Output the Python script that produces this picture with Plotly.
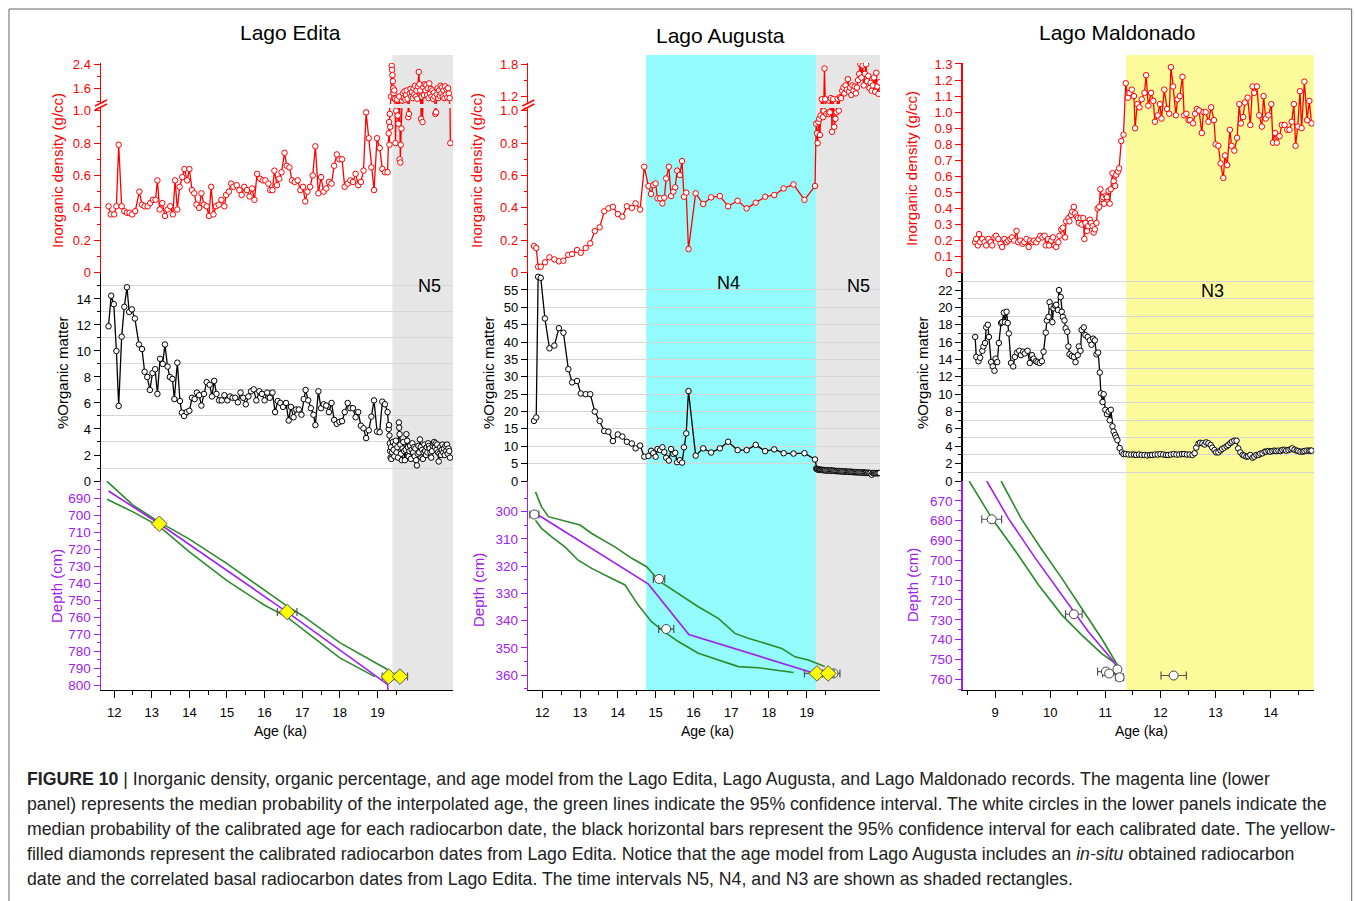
import plotly.graph_objects as go

FONT = "Liberation Sans, Arial, Helvetica, sans-serif"
RED = "#ff0000"
PURPLE = "#a020f0"
GREEN = "#2b8a2b"
BLACK = "#000000"
W, H = 1355, 901

# ---------------- Lago Edita ----------------
edita_age = [11.85, 11.91, 12.00, 12.06, 12.12, 12.20, 12.27, 12.34, 12.41, 12.48, 12.56, 12.67, 12.74, 12.81, 12.89,
             12.96, 13.03, 13.10, 13.15, 13.21, 13.28, 13.35, 13.42, 13.49, 13.56, 13.62, 13.68, 13.74, 13.81, 13.87,
             13.94, 14.00, 14.07, 14.13, 14.19, 14.26, 14.32, 14.39, 14.46, 14.52, 14.58, 14.64, 14.71, 14.78, 14.85,
             14.93, 14.98, 15.05, 15.11, 15.17, 15.26, 15.33, 15.39, 15.46, 15.53, 15.60, 15.67, 15.73, 15.80, 15.88,
             15.95, 16.02, 16.10, 16.15, 16.21, 16.26, 16.33, 16.39, 16.45, 16.53, 16.59, 16.66, 16.73, 16.80, 16.88,
             16.95, 17.02, 17.08, 17.14, 17.21, 17.28, 17.35, 17.43, 17.50, 17.57, 17.64, 17.71, 17.78, 17.85, 17.92,
             17.99, 18.06, 18.13, 18.21, 18.28, 18.35, 18.42, 18.49, 18.56, 18.63, 18.70, 18.77, 18.84, 18.91, 18.99,
             19.06, 19.13, 19.20, 19.27]
edita_density = [0.41, 0.36, 0.36, 0.41, 0.79, 0.41, 0.38, 0.37, 0.37, 0.36, 0.38, 0.50, 0.42, 0.41, 0.41,
                 0.43, 0.45, 0.45, 0.57, 0.39, 0.43, 0.35, 0.39, 0.41, 0.36, 0.57, 0.39, 0.53, 0.59, 0.64,
                 0.57, 0.64, 0.51, 0.49, 0.42, 0.40, 0.49, 0.42, 0.41, 0.35, 0.53, 0.36, 0.41, 0.42, 0.45,
                 0.41, 0.48, 0.50, 0.55, 0.53, 0.54, 0.51, 0.48, 0.53, 0.51, 0.47, 0.52, 0.45, 0.61, 0.58,
                 0.57, 0.57, 0.55, 0.51, 0.51, 0.63, 0.54, 0.58, 0.62, 0.74, 0.66, 0.65, 0.57, 0.56, 0.57,
                 0.51, 0.53, 0.44, 0.50, 0.53, 0.60, 0.78, 0.49, 0.59, 0.50, 0.52, 0.56, 0.55, 0.66, 0.73,
                 0.70, 0.70, 0.53, 0.55, 0.57, 0.56, 0.61, 0.54, 0.56, 0.63, 0.99, 0.83, 0.65, 0.51, 0.83,
                 0.77, 0.64, 0.62, 0.62]
edita_n5_den_age = [19.30, 19.31, 19.32, 19.33, 19.34, 19.36, 19.38, 19.39, 19.40, 19.41, 19.42, 19.43, 19.44, 19.45,
                    19.47, 19.48, 19.50, 19.52, 19.54, 19.56, 19.58, 19.59, 19.61, 19.62, 19.64, 19.66, 19.68, 19.70,
                    19.72, 19.74, 19.76, 19.78, 19.80, 19.82, 19.84, 19.86, 19.88, 19.90, 19.92, 19.94, 19.96, 19.98,
                    20.00, 20.02, 20.04, 20.06, 20.08, 20.10, 20.12, 20.14, 20.16, 20.18, 20.20, 20.22, 20.24, 20.26,
                    20.28, 20.30, 20.32, 20.34, 20.36, 20.38, 20.40, 20.42, 20.44, 20.46, 20.48, 20.50, 20.52, 20.54,
                    20.56, 20.58, 20.60, 20.62, 20.64, 20.66, 20.68, 20.70, 20.72, 20.74, 20.76, 20.78, 20.80, 20.82,
                    20.84, 20.86, 20.88, 20.90, 20.92, 20.94]
edita_n5_density = [0.86, 0.93, 0.79, 0.98, 0.90, 1.35, 2.35, 2.22, 2.05, 1.85, 1.62, 1.45, 1.30, 1.55,
                    1.28, 0.80, 1.00, 1.25, 0.97, 0.92, 1.35, 0.70, 0.68, 0.79, 0.89, 1.22, 1.45, 1.30,
                    1.52, 1.25, 1.40, 1.55, 1.28, 0.96, 0.98, 1.45, 1.60, 1.35, 1.50, 1.30, 1.62, 1.42,
                    1.70, 1.35, 1.55, 1.28, 1.68, 2.15, 1.75, 1.55, 0.95, 1.35, 0.93, 1.65, 1.40, 1.75,
                    1.55, 1.72, 1.40, 1.62, 1.30, 1.78, 1.45, 1.60, 1.35, 1.55, 1.28, 1.48, 1.35, 0.98,
                    0.99, 1.42, 1.62, 1.30, 1.55, 1.38, 1.70, 1.45, 1.65, 1.35, 1.55, 1.30, 1.68, 1.42,
                    1.58, 1.32, 1.62, 1.45, 1.30, 0.80]
edita_org_age = [11.85, 11.92, 11.99, 12.06, 12.12, 12.20, 12.27, 12.34, 12.40, 12.47, 12.55, 12.66, 12.74, 12.81, 12.88,
                 12.95, 13.02, 13.09, 13.15, 13.22, 13.29, 13.35, 13.42, 13.48, 13.55, 13.60, 13.68, 13.75, 13.80, 13.86,
                 13.93, 14.00, 14.07, 14.14, 14.20, 14.26, 14.32, 14.39, 14.46, 14.54, 14.60, 14.66, 14.72, 14.79, 14.86,
                 14.93, 15.01, 15.08, 15.15, 15.22, 15.29, 15.36, 15.43, 15.50, 15.57, 15.64, 15.71, 15.78, 15.86, 15.93,
                 16.00, 16.07, 16.14, 16.21, 16.28, 16.35, 16.42, 16.49, 16.57, 16.64, 16.70, 16.77, 16.84, 16.91, 16.98,
                 17.04, 17.09, 17.16, 17.23, 17.30, 17.35, 17.43, 17.50, 17.57, 17.64, 17.71, 17.78, 17.85, 17.92, 17.99,
                 18.06, 18.13, 18.21, 18.28, 18.35, 18.42, 18.49, 18.56, 18.63, 18.70, 18.77, 18.84, 18.91, 18.99, 19.06,
                 19.13, 19.20, 19.27, 19.30]
edita_organic = [11.9, 14.25, 13.6, 10.0, 5.77, 11.1, 13.4, 14.9, 13.0, 13.2, 12.5, 10.5, 10.15, 8.4, 8.0,
                 7.0, 8.3, 8.6, 6.7, 9.4, 9.0, 10.5, 8.8, 8.0, 7.85, 6.3, 9.1, 6.15, 5.26, 5.0,
                 5.3, 5.4, 6.4, 6.3, 6.8, 6.6, 5.8, 6.7, 7.6, 7.4, 6.5, 7.7, 6.7, 6.2, 6.2,
                 6.6, 6.2, 6.5, 6.4, 6.4, 6.05, 6.8, 6.4, 5.9, 6.5, 6.9, 7.05, 6.2, 6.9, 6.7,
                 6.2, 6.8, 6.4, 6.8, 5.3, 6.15, 6.0, 5.7, 6.0, 4.65, 5.7, 4.9, 5.5, 5.5, 5.1,
                 6.3, 7.0, 6.2, 5.6, 5.1, 4.3, 6.9, 5.6, 5.9, 5.8, 5.3, 6.0, 4.7, 4.4, 4.55,
                 4.6, 5.3, 6.0, 5.6, 5.6, 4.9, 5.3, 4.25, 4.05, 3.3, 3.9, 4.95, 6.2, 3.8, 3.75,
                 6.1, 5.9, 5.3, 4.0]
edita_n5_org_age = [19.31, 19.32, 19.33, 19.34, 19.35, 19.36, 19.37, 19.39, 19.41, 19.43, 19.45, 19.47, 19.49, 19.51,
                    19.53, 19.55, 19.57, 19.58, 19.59, 19.61, 19.63, 19.65, 19.67, 19.69, 19.71, 19.73, 19.75, 19.77,
                    19.79, 19.81, 19.83, 19.85, 19.87, 19.89, 19.91, 19.93, 19.95, 19.97, 19.99, 20.01, 20.03, 20.05,
                    20.07, 20.09, 20.11, 20.13, 20.15, 20.17, 20.19, 20.21, 20.23, 20.25, 20.27, 20.29, 20.31, 20.33,
                    20.35, 20.37, 20.39, 20.41, 20.43, 20.45, 20.47, 20.49, 20.51, 20.53, 20.55, 20.57, 20.59, 20.61,
                    20.63, 20.65, 20.67, 20.69, 20.71, 20.73, 20.75, 20.77, 20.79, 20.81, 20.83, 20.85, 20.87, 20.89,
                    20.91, 20.93]
edita_n5_organic = [4.3, 3.5, 2.9, 2.3, 1.8, 2.6, 1.7, 2.2, 3.0, 2.4, 1.9, 2.8, 3.1, 2.2,
                    2.6, 1.8, 4.5, 4.1, 3.6, 2.8, 2.1, 1.6, 2.5, 3.0, 2.3, 1.6, 2.4, 3.6,
                    3.1, 2.6, 1.9, 2.3, 2.7, 1.7, 2.4, 2.9, 2.2, 2.6, 1.9, 2.5, 1.6, 1.2,
                    2.1, 2.7, 2.2, 3.2, 2.6, 1.8, 2.4, 1.7, 2.2, 2.8, 2.3, 2.0, 2.6, 2.2,
                    2.9, 2.7, 2.5, 2.2, 1.8, 2.3, 2.7, 2.9, 3.0, 2.6, 2.9, 2.4, 2.8, 2.2,
                    1.5, 2.1, 2.6, 2.0, 2.4, 2.8, 2.2, 2.5, 2.0, 2.7, 2.3, 2.8, 2.1, 2.5,
                    2.3, 1.8]
edita_median_age = [11.85, 13.2, 16.6, 19.27, 19.28]
edita_median_depth = [685.7, 705.0, 757.0, 799.6, 803.0]
edita_ci_young_age = [11.81, 12.5, 13.2, 14.0, 15.0, 16.0, 16.6, 17.0, 18.0, 19.36]
edita_ci_young_depth = [680.0, 694.0, 704.0, 714.0, 728.5, 744.0, 753.5, 759.0, 775.0, 792.0]
edita_ci_old_age = [11.81, 12.5, 13.2, 14.0, 15.0, 16.0, 16.6, 17.0, 18.0, 18.93]
edita_ci_old_depth = [690.5, 698.0, 706.5, 721.5, 738.5, 753.0, 760.0, 767.0, 784.0, 795.0]
edita_dates_age = [13.2, 16.6, 19.3, 19.6]
edita_dates_depth = [705, 757, 795, 795]
edita_dates_err = [0.11, 0.26, 0.17, 0.2]

# ---------------- Lago Augusta ----------------
augusta_age = [11.78, 11.84, 11.89, 11.96, 12.07, 12.19, 12.32, 12.44, 12.56, 12.69, 12.79, 12.92, 13.02, 13.15, 13.27,
               13.39, 13.52, 13.64, 13.75, 13.87, 14.00, 14.12, 14.24, 14.37, 14.47, 14.59, 14.70, 14.81, 14.88, 14.94,
               15.00, 15.05, 15.12, 15.18, 15.23, 15.28, 15.35, 15.41, 15.47, 15.52, 15.57, 15.64, 15.70, 15.75, 15.81,
               15.87, 16.06, 16.26, 16.47, 16.70, 16.92, 17.17, 17.41, 17.65, 17.90, 18.14, 18.39, 18.65, 18.94, 19.22,
               19.25, 19.27, 19.29, 19.31, 19.33, 19.35, 19.37, 19.40, 19.43, 19.45, 19.47, 19.49, 19.52, 19.55, 19.58,
               19.61, 19.64, 19.67, 19.70, 19.73, 19.76, 19.79, 19.82, 19.85, 19.88, 19.91, 19.94, 19.97, 20.00, 20.03,
               20.06, 20.09, 20.12, 20.15, 20.18, 20.21, 20.24, 20.27, 20.30, 20.33, 20.36, 20.39, 20.42, 20.45, 20.48,
               20.51, 20.54, 20.57, 20.60, 20.63, 20.66, 20.69, 20.72, 20.75, 20.78, 20.81, 20.84, 20.87, 20.90, 20.93]
augusta_density = [0.165, 0.152, 0.037, 0.037, 0.064, 0.095, 0.082, 0.07, 0.074, 0.11, 0.115, 0.14, 0.123, 0.152, 0.181,
                   0.257, 0.28, 0.379, 0.397, 0.407, 0.362, 0.346, 0.41, 0.40, 0.428, 0.39, 0.654, 0.535, 0.486, 0.541,
                   0.551, 0.459, 0.459, 0.428, 0.463, 0.582, 0.654, 0.473, 0.50, 0.527, 0.63, 0.603, 0.689, 0.469, 0.494,
                   0.146, 0.49, 0.424, 0.465, 0.473, 0.41, 0.444, 0.397, 0.432, 0.469, 0.479, 0.52, 0.545, 0.45, 0.535,
                   0.92, 0.86, 0.80, 0.93, 0.95, 0.85, 0.97, 1.14, 0.96, 1.00, 1.72, 1.14, 0.98, 1.02, 0.98,
                   0.99, 1.16, 0.87, 1.14, 0.90, 0.95, 0.99, 1.15, 1.00, 1.18, 1.16, 1.30, 1.36, 1.25, 1.40,
                   1.32, 1.52, 1.28, 1.36, 1.22, 1.40, 1.30, 1.38, 1.25, 1.36, 1.50, 1.62, 1.80, 1.55, 1.78,
                   1.40, 1.62, 1.80, 1.48, 1.58, 1.35, 1.45, 1.30, 1.40, 1.55, 1.28, 1.64, 1.38, 1.24, 1.46]
augusta_organic = [17.3, 18.3, 58.8, 58.5, 46.8, 38.2, 39.0, 44.0, 42.7, 32.2, 28.4, 28.8, 25.2, 25.0, 25.0,
                   20.0, 17.3, 14.4, 14.2, 11.5, 13.4, 12.8, 11.3, 10.8, 9.4, 10.2, 7.0, 7.2, 8.7, 8.0,
                   7.0, 9.2, 8.9, 9.7, 8.3, 6.7, 5.9, 9.2, 7.8, 8.1, 5.4, 6.0, 5.3, 9.7, 13.7,
                   25.9, 7.3, 9.4, 8.2, 9.4, 11.3, 8.9, 8.9, 10.4, 8.6, 9.1, 8.0, 7.9, 8.0, 6.2,
                   3.6, 3.4, 3.3, 3.3, 3.2, 3.3, 3.2, 3.2, 3.1, 3.2, 3.1, 3.1, 3.0, 3.1, 3.0,
                   3.0, 3.1, 2.9, 3.0, 2.9, 2.9, 2.9, 2.8, 2.9, 2.8, 2.8, 2.8, 2.7, 2.8, 2.7,
                   2.7, 2.7, 2.6, 2.7, 2.6, 2.6, 2.6, 2.5, 2.6, 2.5, 2.5, 2.5, 2.5, 2.4, 2.5,
                   2.4, 2.4, 2.4, 2.3, 2.4, 2.3, 2.3, 1.8, 2.3, 2.3, 2.2, 2.3, 2.2, 2.3, 2.3]
augusta_median_age = [11.85, 12.0, 14.81, 15.88, 19.22]
augusta_median_depth = [301.0, 302.1, 326.6, 345.1, 359.4]
augusta_ci_young_age = [11.82, 11.98, 12.16, 12.51, 13.0, 13.31, 13.92, 14.37, 14.76, 15.12, 15.60, 16.13, 16.66,
                        17.10, 17.45, 17.90, 18.34, 18.69, 19.04, 19.48]
augusta_ci_young_depth = [292.7, 298.2, 301.8, 303.1, 304.9, 308.0, 312.9, 317.1, 320.2, 325.7, 330.0, 334.9, 339.2,
                          344.7, 346.5, 348.4, 350.2, 353.3, 354.5, 356.9]
augusta_ci_old_age = [11.82, 11.98, 12.25, 12.60, 12.95, 13.31, 13.84, 14.19, 14.54, 14.89, 15.25, 15.60, 16.13,
                      16.66, 17.19, 17.72, 18.65]
augusta_ci_old_depth = [303.1, 306.1, 309.2, 312.9, 317.8, 320.8, 324.5, 326.9, 334.3, 340.4, 344.3, 347.7, 352.0,
                        354.5, 356.9, 357.3, 359.1]
augusta_c14_age = [11.79, 15.09, 15.28, 19.71]
augusta_c14_depth = [301.0, 324.7, 343.1, 359.4]
augusta_c14_err = [0.12, 0.15, 0.2, 0.17]
augusta_edita_age = [19.27, 19.57]
augusta_edita_depth = [359.4, 359.4]
augusta_edita_err = [0.33, 0.15]

# ---------------- Lago Maldonado ----------------
maldonado_den_age = [8.64, 8.66, 8.69, 8.71, 8.73, 8.77, 8.81, 8.84, 8.88, 8.92, 8.95, 8.99, 9.02, 9.06, 9.10,
                     9.13, 9.17, 9.21, 9.24, 9.28, 9.31, 9.35, 9.39, 9.42, 9.46, 9.50, 9.53, 9.57, 9.61, 9.64,
                     9.68, 9.71, 9.75, 9.79, 9.82, 9.86, 9.90, 9.92, 9.96, 9.98, 10.02, 10.05, 10.08, 10.11, 10.15,
                     10.17, 10.20, 10.23, 10.27, 10.29, 10.33, 10.35, 10.38, 10.40, 10.43, 10.45, 10.48, 10.50, 10.52, 10.55,
                     10.57, 10.60, 10.62, 10.64, 10.67, 10.69, 10.72, 10.74, 10.77, 10.79, 10.81, 10.84, 10.86, 10.89, 10.91,
                     10.94, 10.96, 10.98, 11.01, 11.03, 11.06, 11.08, 11.10, 11.13, 11.15, 11.18, 11.20, 11.23, 11.25, 11.29,
                     11.33, 11.37,
                     11.41, 11.44, 11.48, 11.52, 11.54, 11.58, 11.62, 11.66, 11.71, 11.74, 11.78, 11.83, 11.87, 11.90, 11.95,
                     11.99, 12.02, 12.07, 12.12, 12.16, 12.19, 12.23, 12.28, 12.31, 12.35, 12.40, 12.43, 12.47, 12.51, 12.54,
                     12.59, 12.63, 12.66, 12.70, 12.75, 12.78, 12.82, 12.87, 12.92, 12.97, 13.00, 13.05, 13.09, 13.14, 13.17,
                     13.21, 13.26, 13.29, 13.34, 13.39, 13.43, 13.46, 13.50, 13.53, 13.58, 13.63, 13.67, 13.70, 13.75, 13.79,
                     13.84, 13.87, 13.91, 13.96, 14.01, 14.04, 14.08, 14.11, 14.16, 14.20, 14.25, 14.30, 14.34, 14.38, 14.42,
                     14.45, 14.49, 14.53, 14.56, 14.61, 14.66, 14.70, 14.74]
maldonado_density = [0.19, 0.21, 0.17, 0.24, 0.19, 0.21, 0.19, 0.17, 0.21, 0.19, 0.17, 0.22, 0.23, 0.21, 0.18,
                     0.16, 0.21, 0.19, 0.20, 0.21, 0.22, 0.20, 0.26, 0.19, 0.20, 0.18, 0.19, 0.21, 0.16, 0.20,
                     0.19, 0.20, 0.19, 0.21, 0.23, 0.22, 0.23, 0.17, 0.21, 0.17, 0.20, 0.22, 0.17, 0.16, 0.19,
                     0.23, 0.27, 0.28, 0.22, 0.32, 0.34, 0.32, 0.36, 0.38, 0.41, 0.37, 0.35, 0.34, 0.31, 0.34,
                     0.30, 0.34, 0.21, 0.31, 0.26, 0.29, 0.33, 0.31, 0.29, 0.25, 0.27, 0.31, 0.40, 0.41, 0.52,
                     0.46, 0.47, 0.43, 0.48, 0.47, 0.51, 0.43, 0.52, 0.62, 0.57, 0.54, 0.61, 0.63, 0.65, 0.82,
                     0.86, 1.18,
                     1.09, 1.12, 1.14, 1.10, 0.90, 1.05, 1.03, 1.08, 1.12, 1.23, 1.04, 1.12, 1.07, 0.94, 0.98,
                     1.05, 0.96, 1.14, 1.02, 0.99, 1.28, 1.16, 0.98, 1.08, 1.10, 1.22, 0.98, 0.99, 0.95, 0.95,
                     0.93, 0.99, 1.02, 1.01, 0.87, 1.00, 1.00, 0.94, 1.03, 0.95, 0.80, 0.79, 0.68, 0.59, 0.73,
                     0.67, 0.89, 0.79, 0.76, 0.84, 1.05, 0.93, 0.97, 1.06, 1.09, 0.92, 1.16, 1.12, 1.16, 0.98,
                     0.91, 1.10, 0.96, 0.98, 1.05, 0.81, 0.87, 0.81, 0.85, 0.92, 0.92, 0.89, 0.89, 0.94, 1.05,
                     0.79, 0.91, 1.13, 0.90, 1.19, 0.95, 1.07, 0.93]
maldonado_org_age = [8.64, 8.66, 8.70, 8.73, 8.77, 8.79, 8.82, 8.84, 8.87, 8.89, 8.93, 8.96, 8.99, 9.01, 9.04,
                     9.07, 9.11, 9.13, 9.16, 9.18, 9.21, 9.23, 9.25, 9.29, 9.33, 9.36, 9.40, 9.44, 9.47, 9.51,
                     9.54, 9.59, 9.63, 9.67, 9.70, 9.74, 9.77, 9.81, 9.85, 9.88, 9.92, 9.94, 9.97, 9.99, 10.02,
                     10.04, 10.06, 10.09, 10.11, 10.14, 10.16, 10.19, 10.21, 10.23, 10.26, 10.28, 10.31, 10.33, 10.35, 10.39,
                     10.43, 10.46, 10.50, 10.52, 10.55, 10.57, 10.61, 10.64, 10.68, 10.72, 10.75, 10.78, 10.81, 10.84, 10.87,
                     10.90, 10.92, 10.95, 10.97, 11.00, 11.03, 11.06, 11.08, 11.10, 11.13, 11.15, 11.18, 11.20, 11.22, 11.26,
                     11.30, 11.33, 11.37,
                     11.42, 11.47, 11.52, 11.56, 11.61, 11.66, 11.71, 11.76, 11.81, 11.85, 11.90, 11.95, 12.00, 12.05, 12.10,
                     12.14, 12.19, 12.24, 12.29, 12.34, 12.39, 12.43, 12.48, 12.53, 12.58, 12.62, 12.65, 12.69, 12.72, 12.76,
                     12.80, 12.83, 12.87, 12.91, 12.94, 12.98, 13.01, 13.05, 13.09, 13.12, 13.16, 13.20, 13.23, 13.27, 13.30,
                     13.34, 13.38, 13.41, 13.45, 13.49, 13.52, 13.56, 13.59, 13.63, 13.67, 13.70, 13.74, 13.78, 13.81, 13.85,
                     13.89, 13.92, 13.96, 13.99, 14.03, 14.07, 14.10, 14.14, 14.18, 14.21, 14.25, 14.28, 14.32, 14.36, 14.39,
                     14.43, 14.47, 14.50, 14.54, 14.58, 14.61, 14.65, 14.69, 14.72, 14.74]
maldonado_organic = [16.6, 14.3, 13.8, 14.2, 15.0, 15.5, 15.9, 17.7, 18.0, 16.6, 13.7, 13.2, 12.7, 14.1, 13.7,
                     15.9, 18.2, 18.3, 19.4, 18.3, 19.5, 18.2, 17.0, 13.6, 13.2, 14.3, 14.8, 15.0, 14.5, 14.9,
                     14.7, 15.0, 13.6, 14.5, 14.1, 13.8, 13.7, 13.6, 13.8, 14.9, 17.1, 18.5, 18.9, 20.6, 20.1,
                     18.3, 19.9, 20.2, 20.3, 19.7, 22.0, 21.2, 19.5, 18.9, 18.5, 17.6, 17.2, 15.5, 14.6, 14.4,
                     14.3, 13.7, 14.5, 15.5, 15.0, 17.4, 17.7, 16.8, 16.6, 16.2, 15.7, 16.4, 16.2, 14.6, 14.8,
                     12.5, 10.1, 9.1, 10.0, 8.2, 7.7, 8.0, 7.0, 8.2, 6.3, 5.7, 5.3, 5.0, 4.7, 3.8,
                     3.3, 3.1, 3.1,
                     3.05, 3.05, 3.05, 3.0, 3.05, 3.0, 3.0, 2.95, 3.0, 3.0, 3.05, 3.05, 3.1, 3.05, 3.0,
                     3.0, 3.05, 3.1, 3.05, 3.05, 3.1, 3.1, 3.05, 3.05, 3.0, 3.2, 3.84, 4.3, 4.4, 4.35,
                     4.2, 4.45, 4.35, 4.15, 3.84, 3.57, 3.3, 3.3, 3.53, 3.7, 3.84, 4.0, 4.15, 4.38, 4.53,
                     4.64, 4.64, 3.76, 3.3, 3.0, 2.92, 2.8, 2.84, 3.0, 2.69, 2.8, 3.0, 3.0, 3.15, 3.19,
                     3.38, 3.38, 3.45, 3.38, 3.45, 3.5, 3.45, 3.5, 3.45, 3.57, 3.6, 3.5, 3.57, 3.65, 3.76,
                     3.6, 3.5, 3.45, 3.38, 3.38, 3.45, 3.5, 3.5, 3.5, 3.5]
maldonado_median_age = [8.85, 9.24, 9.73, 10.21, 10.69, 11.15, 11.21]
maldonado_median_depth = [660.0, 678.7, 698.9, 717.4, 735.9, 751.0, 754.1]
maldonado_ci_young_age = [9.11, 9.47, 9.85, 10.21, 10.57, 10.93, 11.22]
maldonado_ci_young_depth = [660.0, 678.7, 694.7, 709.0, 724.2, 739.3, 752.8]
maldonado_ci_old_age = [8.53, 8.94, 9.42, 9.79, 10.21, 10.57, 10.93, 11.18]
maldonado_ci_old_depth = [660.0, 678.7, 697.3, 712.4, 727.5, 737.6, 746.9, 751.9]
maldonado_c14_age = [8.94, 10.43, 11.22, 11.01, 11.07, 11.26, 12.24]
maldonado_c14_depth = [679.3, 727.2, 755.0, 756.1, 757.1, 759.0, 758.1]
maldonado_c14_err = [0.18, 0.15, 0.05, 0.15, 0.12, 0.07, 0.23]

# shaded time intervals (ka)
edita_n5 = [19.40, 21.01]
augusta_n4 = [14.75, 19.25]
augusta_n5 = [19.25, 20.94]
maldonado_n3 = [11.376, 14.79]

caption_lines = [
    "<b>FIGURE 10</b> | Inorganic density, organic percentage, and age model from the Lago Edita, Lago Augusta, and Lago Maldonado records. The magenta line (lower",
    "panel) represents the median probability of the interpolated age, the green lines indicate the 95% confidence interval. The white circles in the lower panels indicate the",
    "median probability of the calibrated age for each radiocarbon date, the black horizontal bars represent the 95% confidence interval for each calibrated date. The yellow-",
    "filled diamonds represent the calibrated radiocarbon dates from Lago Edita. Notice that the age model from Lago Augusta includes an <i>in-situ</i> obtained radiocarbon",
    "date and the correlated basal radiocarbon dates from Lago Edita. The time intervals N5, N4, and N3 are shown as shaded rectangles.",
]


def fx(p):
    return p / W


def fy(p):
    return 1 - p / H


fig = go.Figure()


def series(x, y, xa, ya, color):
    fig.add_trace(go.Scatter(
        x=x, y=y, xaxis=xa, yaxis=ya, mode="lines+markers",
        line=dict(color=color, width=1.3),
        marker=dict(symbol="circle", size=5.5, color="white", line=dict(color=color, width=1)),
        showlegend=False, hoverinfo="skip"))


def curve(x, y, xa, ya, color):
    fig.add_trace(go.Scatter(x=x, y=y, xaxis=xa, yaxis=ya, mode="lines",
                             line=dict(color=color, width=1.6), showlegend=False, hoverinfo="skip"))


def dates(x, y, err, xa, ya, symbol):
    if symbol == "diamond":
        mk = dict(symbol="diamond", size=12, color="#ffff00", line=dict(color="#555555", width=1))
    else:
        mk = dict(symbol="circle", size=9, color="white", line=dict(color="#444444", width=1))
    fig.add_trace(go.Scatter(
        x=x, y=y, xaxis=xa, yaxis=ya, mode="markers", marker=mk,
        error_x=dict(type="data", array=err, color="#555555", thickness=1.2, width=4),
        showlegend=False, hoverinfo="skip"))


# Edita
ed_den_x = edita_age + edita_n5_den_age
ed_den_y = edita_density + edita_n5_density
series(ed_den_x, ed_den_y, "x", "y", RED)
series(ed_den_x, ed_den_y, "x", "y2", RED)
series(edita_org_age + edita_n5_org_age, edita_organic + edita_n5_organic, "x", "y3", BLACK)
curve(edita_ci_young_age, edita_ci_young_depth, "x", "y4", GREEN)
curve(edita_ci_old_age, edita_ci_old_depth, "x", "y4", GREEN)
curve(edita_median_age, edita_median_depth, "x", "y4", PURPLE)
dates(edita_dates_age, edita_dates_depth, edita_dates_err, "x", "y4", "diamond")

# Augusta
series(augusta_age, augusta_density, "x2", "y5", RED)
series(augusta_age, augusta_density, "x2", "y6", RED)
series(augusta_age, augusta_organic, "x2", "y7", BLACK)
curve(augusta_ci_young_age, augusta_ci_young_depth, "x2", "y8", GREEN)
curve(augusta_ci_old_age, augusta_ci_old_depth, "x2", "y8", GREEN)
curve(augusta_median_age, augusta_median_depth, "x2", "y8", PURPLE)
dates(augusta_c14_age, augusta_c14_depth, augusta_c14_err, "x2", "y8", "circle")
dates(augusta_edita_age, augusta_edita_depth, augusta_edita_err, "x2", "y8", "diamond")

# Maldonado
series(maldonado_den_age, maldonado_density, "x3", "y9", RED)
series(maldonado_org_age, maldonado_organic, "x3", "y10", BLACK)
curve(maldonado_ci_young_age, maldonado_ci_young_depth, "x3", "y11", GREEN)
curve(maldonado_ci_old_age, maldonado_ci_old_depth, "x3", "y11", GREEN)
curve(maldonado_median_age, maldonado_median_depth, "x3", "y11", PURPLE)
dates(maldonado_c14_age, maldonado_c14_depth, maldonado_c14_err, "x3", "y11", "circle")

# ---------------- axes ----------------
def yax(anchor, top, bottom, rng, color, tickvals, ticktext=None, minor_vals=None, grid_major=False,
        grid_minor=False, size=13):
    d = dict(anchor=anchor, domain=[fy(bottom), fy(top)], range=rng, showline=True, linecolor=color,
             linewidth=1.5, ticks="outside", ticklen=6, tickwidth=1, tickcolor=color,
             tickfont=dict(family=FONT, size=size, color=color), tickvals=tickvals,
             showgrid=grid_major, gridcolor="#d6d6d6", gridwidth=1, zeroline=False, fixedrange=True,
             automargin=False)
    if ticktext is not None:
        d["ticktext"] = ticktext
    if minor_vals is not None:
        d["minor"] = dict(tickvals=minor_vals, ticks="outside", ticklen=3, tickcolor=color,
                          showgrid=grid_minor, gridcolor="#d6d6d6", gridwidth=1)
    return d


def xax(anchor, left, right, rng, tickvals, minor_vals):
    return dict(anchor=anchor, domain=[fx(left), fx(right)], range=rng, showline=True, linecolor=BLACK,
                linewidth=1.2, ticks="outside", ticklen=7, tickcolor=BLACK, tickvals=tickvals,
                tickfont=dict(family=FONT, size=13, color=BLACK), ticklabelstandoff=3,
                showgrid=False, zeroline=False, fixedrange=True, automargin=False,
                minor=dict(tickvals=minor_vals, ticks="outside", ticklen=4, tickcolor=BLACK))


layout = dict(
    width=W, height=H, autosize=False, margin=dict(l=0, r=0, t=0, b=0, pad=0, autoexpand=False),
    paper_bgcolor="white", plot_bgcolor="rgba(0,0,0,0)", showlegend=False,
    font=dict(family=FONT, color=BLACK),
)

layout["xaxis"] = xax("y4", 101, 453, [11.65, 21.01], list(range(12, 20)),
                      [12.5, 13.5, 14.5, 15.5, 16.5, 17.5, 18.5, 19.5])
layout["xaxis2"] = xax("y8", 528.3, 880, [11.63, 20.94], list(range(12, 20)),
                       [12.5, 13.5, 14.5, 15.5, 16.5, 17.5, 18.5, 19.5])
layout["xaxis3"] = xax("y11", 962.7, 1314.3, [8.414, 14.79], list(range(9, 15)),
                       [8.5, 9.5, 10.5, 11.5, 12.5, 13.5, 14.5])

den_vals = [0, 0.2, 0.4, 0.6, 0.8, 1.0]
den_text = ["0", "0.2", "0.4", "0.6", "0.8", "1.0"]
den_minor = [0.1, 0.3, 0.5, 0.7, 0.9]

# Edita
layout["yaxis"] = yax("x", 63, 104, [1.109, 2.442], RED, [1.6, 2.4], ["1.6", "2.4"], [1.2, 2.0])
layout["yaxis2"] = yax("x", 108, 272.7, [0, 1.0167], RED, den_vals, den_text, den_minor)
layout["yaxis3"] = yax("x", 272.7, 481, [0, 16.02], BLACK, list(range(0, 15, 2)), None,
                       list(range(1, 16, 2)), grid_minor=True)
layout["yaxis4"] = yax("x", 481, 690, [802.9, 679.8], PURPLE, list(range(690, 801, 10)), None,
                       list(range(685, 801, 10)), size=13.5)
# Augusta
layout["yaxis5"] = yax("x2", 63, 104, [1.049, 1.825], RED, [1.2, 1.8], ["1.2", "1.8"], [1.5])
layout["yaxis6"] = yax("x2", 108, 272.7, [0, 1.0167], RED, den_vals, den_text, den_minor)
layout["yaxis7"] = yax("x2", 272.7, 481, [0, 59.98], BLACK, list(range(0, 56, 5)), None, None,
                       grid_major=True)
layout["yaxis8"] = yax("x2", 481, 690, [365.5, 288.7], PURPLE, list(range(300, 361, 10)), None,
                       list(range(295, 366, 10)), size=13.5)
# Maldonado
mal_den_vals = [0, 0.1, 0.2, 0.3, 0.4, 0.5, 0.6, 0.7, 0.8, 0.9, 1.0, 1.1, 1.2, 1.3]
mal_den_text = ["0", "0.1", "0.2", "0.3", "0.4", "0.5", "0.6", "0.7", "0.8", "0.9", "1.0", "1.1", "1.2", "1.3"]
layout["yaxis9"] = yax("x3", 63, 272.7, [0, 1.306], RED, mal_den_vals, mal_den_text, None)
layout["yaxis10"] = yax("x3", 272.7, 481, [0, 24.0], BLACK, list(range(0, 23, 2)), None,
                        list(range(1, 24, 2)), grid_minor=True)
layout["yaxis11"] = yax("x3", 481, 690, [765.4, 660], PURPLE, list(range(670, 761, 10)), None,
                        list(range(665, 766, 10)), size=13.5)

fig.update_layout(**layout)

# ---------------- shapes ----------------
shapes = []


def band(xref, rng, color):
    shapes.append(dict(type="rect", xref=xref, yref="paper", x0=rng[0], x1=rng[1], y0=fy(690), y1=fy(55),
                       fillcolor=color, line=dict(width=0), layer="below"))


band("x", edita_n5, "#e6e6e6")
band("x2", augusta_n4, "#93fbfb")
band("x2", augusta_n5, "#e6e6e6")
band("x3", maldonado_n3, "#fbfb9b")

# axis break marks
for cx in (101, 528.3):
    for dy in (0, 4):
        shapes.append(dict(type="line", xref="paper", yref="paper", x0=fx(cx - 6), y0=fy(110 - dy),
                           x1=fx(cx + 6), y1=fy(104 - dy), line=dict(color=RED, width=1.4)))

# figure frame
shapes.append(dict(type="rect", xref="paper", yref="paper", x0=fx(9), x1=fx(1351.7), y0=fy(915), y1=fy(9),
                   line=dict(color="#666666", width=1), fillcolor="rgba(0,0,0,0)"))
fig.update_layout(shapes=shapes)

# ---------------- annotations ----------------
ann = []


def text(t, x, y, size, color=BLACK, angle=0, xanchor="center"):
    ann.append(dict(text=t, x=fx(x), y=fy(y), xref="paper", yref="paper", showarrow=False,
                    font=dict(family=FONT, size=size, color=color), textangle=angle,
                    xanchor=xanchor, yanchor="middle"))


text("Lago Edita", 290, 33, 21)
text("Lago Augusta", 720, 35, 21)
text("Lago Maldonado", 1117, 33, 21)
text("N5", 430, 286, 18)
text("N4", 728, 283, 18)
text("N5", 858, 286, 18)
text("N3", 1212, 291, 18)

for xpos, dens_y, org_x, depth_x, depth_y in [(58, 171, 62, 56, 586), (477, 171, 488, 478, 590),
                                               (912, 169, 922, 912, 585)]:
    text("Inorganic density (g/cc)", xpos, dens_y, 15, RED, -90)
    text("%Organic matter", org_x, 373, 15, BLACK, -90)
    text("Depth (cm)", depth_x, depth_y, 15, PURPLE, -90)

for xpos in (280, 707, 1141):
    text("Age (ka)", xpos, 731, 14)

for i, line in enumerate(caption_lines):
    text(line, 25, 779 + 25 * i, 17.7, "#222222", 0, "left")

fig.update_layout(annotations=ann)

fig.write_html(
    "out.html",
    config={"displayModeBar": False, "staticPlot": True},
    post_script="document.documentElement.style.margin='0';document.body.style.margin='0';"
                "document.body.style.padding='0';document.body.style.overflow='hidden';",
)
